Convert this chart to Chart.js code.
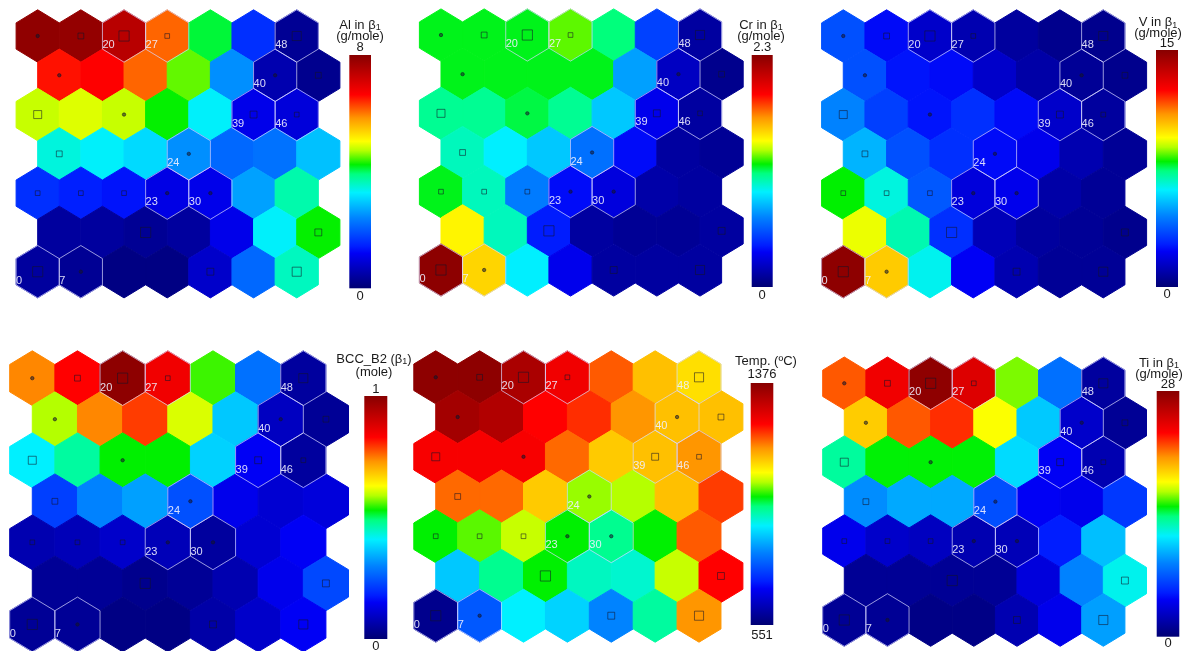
<!DOCTYPE html>
<html>
<head>
<meta charset="utf-8">
<script src="https://cdn.jsdelivr.net/npm/chart.js@4.4.1/dist/chart.umd.min.js"></script>
<style>
  html, body { margin: 0; padding: 0; background: #fff; overflow: hidden; }
  #wrap { position: relative; width: 1183px; height: 651px; overflow: hidden; }
  canvas { position: absolute; }
</style>
</head>
<body>
<div id="wrap">
  <canvas id="al"></canvas>
  <canvas id="cr"></canvas>
  <canvas id="v"></canvas>
  <canvas id="bcc"></canvas>
  <canvas id="temp"></canvas>
  <canvas id="ti"></canvas>
</div>
<script>
// SOM maps, 7 x 7 nodes, rows listed from the top row down, 7 nodes per row
const alValues = [
  7.9, 7.85, 7.45, 6.1, 4.1, 1.6, 0.3,
  6.55, 6.65, 6.1, 4.5, 2.5, 0.55, 0.25,
  4.8, 4.9, 4.8, 4.25, 3.3, 1.1, 0.95,
  3.45, 3.3, 3.1, 2.5, 2.15, 2.25, 2.9,
  1.6, 1.45, 1.35, 1.05, 1.1, 2.65, 3.7,
  0.4, 0.4, 0.3, 0.4, 1.1, 3.3, 4.25,
  0.4, 0.3, 0.15, 0.15, 0.8, 2.15, 3.6
];
const crValues = [
  1.2, 1.2, 1.2, 1.29, 1.13, 0.51, 0.12,
  1.2, 1.2, 1.2, 1.2, 0.76, 0.21, 0.07,
  1.1, 1.1, 1.17, 1.1, 0.85, 0.32, 0.12,
  1.04, 0.94, 0.85, 0.64, 0.37, 0.12, 0.09,
  1.2, 1.04, 0.67, 0.37, 0.28, 0.14, 0.12,
  1.47, 1.04, 0.41, 0.12, 0.09, 0.09, 0.12,
  2.28, 1.54, 0.94, 0.32, 0.12, 0.12, 0.12
];
const vValues = [
  3.6, 2.4, 1.5, 1.05, 0.75, 0.45, 0.45,
  3.6, 2.55, 2.4, 1.5, 0.9, 0.6, 0.45,
  4.5, 3.3, 2.55, 3.0, 2.4, 1.5, 0.75,
  5.25, 3.6, 3.0, 2.4, 2.1, 1.05, 0.6,
  7.95, 6.45, 3.75, 1.8, 2.1, 0.9, 0.6,
  9.3, 6.9, 3.0, 1.2, 0.75, 0.6, 0.45,
  14.85, 10.2, 6.3, 2.25, 1.05, 0.6, 0.6
];
const bccValues = [
  0.74, 0.83, 0.99, 0.85, 0.55, 0.28, 0.05,
  0.59, 0.74, 0.79, 0.61, 0.37, 0.09, 0.04,
  0.41, 0.47, 0.53, 0.53, 0.38, 0.15, 0.05,
  0.22, 0.30, 0.33, 0.24, 0.14, 0.11, 0.12,
  0.07, 0.08, 0.10, 0.08, 0.05, 0.11, 0.15,
  0.04, 0.04, 0.03, 0.04, 0.07, 0.14, 0.23,
  0.04, 0.04, 0.02, 0.02, 0.06, 0.10, 0.15
];
const tempValues = [
  1368, 1368, 1335, 1252, 1186, 1120, 1096,
  1343, 1327, 1236, 1211, 1153, 1120, 1120,
  1244, 1244, 1244, 1178, 1112, 1120, 1153,
  1178, 1178, 1112, 1030, 1038, 1120, 1203,
  988, 1013, 1046, 988, 947, 988, 1186,
  856, 947, 988, 922, 914, 1046, 1236,
  576, 757, 889, 865, 799, 939, 1153
];
const tiValues = [
  21.6, 23.8, 27.7, 24.6, 16.0, 7.8, 1.4,
  19.0, 21.6, 22.4, 17.6, 10.4, 2.8, 1.1,
  13.2, 14.8, 14.8, 14.8, 10.9, 4.2, 2.0,
  8.7, 9.5, 9.5, 6.7, 4.2, 3.9, 5.9,
  3.9, 2.8, 2.5, 2.0, 2.2, 5.0, 10.1,
  1.1, 1.1, 1.1, 1.1, 3.4, 8.4, 11.8,
  1.1, 1.1, 0.6, 0.6, 2.0, 3.9, 9.2
];

// colour bar ends (min, max)
const alRange = [0, 8];
const crRange = [0, 2.3];
const vRange = [0, 15];
const bccRange = [0, 1];
const tempRange = [551, 1376];
const tiRange = [0, 28];

// hits per node (same rows as above); 1 = single hit (dot)
const hitCounts = [
  1, 3, 7, 2, 0, 0, 6,
  1, 0, 0, 0, 0, 1, 3,
  5, 0, 1, 0, 0, 4, 2,
  3, 0, 0, 1, 0, 0, 0,
  2, 2, 2, 1, 1, 0, 0,
  0, 0, 7, 0, 0, 0, 4,
  7, 1, 0, 0, 4, 0, 6
];
const labeledNodes = [0, 7, 20, 27, 48, 40, 39, 46, 24, 23, 30];

const NROW = 7, NCOL = 7;

const colorStops = [
  [0.00, [0, 0, 115]],
  [0.15, [0, 0, 245]],
  [0.18, [0, 30, 255]],
  [0.30, [0, 130, 255]],
  [0.41, [0, 240, 255]],
  [0.49, [0, 255, 128]],
  [0.53, [0, 240, 0]],
  [0.59, [180, 255, 0]],
  [0.63, [255, 255, 0]],
  [0.73, [255, 150, 0]],
  [0.83, [255, 0, 0]],
  [1.00, [135, 0, 0]]
];

function colorAt(t) {
  t = Math.max(0, Math.min(1, t));
  for (let i = 1; i < colorStops.length; i++) {
    const [t1, c1] = colorStops[i];
    const [t0, c0] = colorStops[i - 1];
    if (t <= t1) {
      const f = (t - t0) / (t1 - t0);
      const c = c0.map((v, k) => Math.round(v + (c1[k] - v) * f));
      return 'rgb(' + c.join(',') + ')';
    }
  }
  return 'rgb(135,0,0)';
}

function nodeGrid(values) {
  const pts = [];
  for (let r = 0; r < NROW; r++) {
    for (let c = 0; c < NCOL; c++) {
      const row = NROW - 1 - r;
      pts.push({ x: c + (row % 2 ? 0.5 : 0), y: row, v: values[r * NCOL + c], node: c * NROW + row });
    }
  }
  return pts;
}

const hitPoints = nodeGrid(hitCounts).filter(p => p.v > 0);

function hexPath(ctx, xs, ys, p) {
  const corners = [[0, 2 / 3], [0.5, 1 / 3], [0.5, -1 / 3], [0, -2 / 3], [-0.5, -1 / 3], [-0.5, 1 / 3]];
  ctx.beginPath();
  corners.forEach(([dx, dy], i) => {
    const px = xs.getPixelForValue(p.x + dx), py = ys.getPixelForValue(p.y + dy);
    if (i) ctx.lineTo(px, py); else ctx.moveTo(px, py);
  });
  ctx.closePath();
}

// text with a lowered "1" after beta
function drawTitle(ctx, parts, cx, y) {
  const big = '13px "Liberation Sans", Arial, sans-serif';
  const small = '9px "Liberation Sans", Arial, sans-serif';
  let w = 0;
  parts.forEach(s => { ctx.font = s.sub ? small : big; w += ctx.measureText(s.t).width; });
  let x = cx - w / 2;
  ctx.textAlign = 'left';
  ctx.textBaseline = 'middle';
  parts.forEach(s => {
    ctx.font = s.sub ? small : big;
    ctx.fillText(s.t, x, s.sub ? y + 3 : y);
    x += ctx.measureText(s.t).width;
  });
}

const hexMap = {
  id: 'hexMap',
  beforeDatasetsDraw(chart, args, o) {
    const ctx = chart.ctx, xs = chart.scales.x, ys = chart.scales.y;
    ctx.save();
    chart.data.datasets[0].data.forEach(p => {
      const col = colorAt((p.v - o.range[0]) / (o.range[1] - o.range[0]));
      hexPath(ctx, xs, ys, p);
      ctx.fillStyle = col;
      ctx.fill();
      ctx.strokeStyle = col;
      ctx.lineWidth = 1;
      ctx.stroke();
    });
    ctx.restore();
  },
  afterDatasetsDraw(chart, args, o) {
    const ctx = chart.ctx, xs = chart.scales.x, ys = chart.scales.y;
    ctx.save();
    const pts = chart.data.datasets[0].data.filter(p => labeledNodes.includes(p.node));
    ctx.strokeStyle = 'rgba(215,215,255,0.7)';
    ctx.lineWidth = 1;
    pts.forEach(p => { hexPath(ctx, xs, ys, p); ctx.stroke(); });
    ctx.fillStyle = 'rgba(240,240,255,0.9)';
    ctx.font = '11px "Liberation Sans", Arial, sans-serif';
    ctx.textAlign = 'left';
    ctx.textBaseline = 'middle';
    pts.forEach(p => {
      ctx.fillText(String(p.node), xs.getPixelForValue(p.x - 0.5), ys.getPixelForValue(p.y - 0.23));
    });
    ctx.restore();
  },
  afterDraw(chart, args, o) {
    const ctx = chart.ctx, b = o.bar;
    ctx.save();
    const g = ctx.createLinearGradient(0, b.y + b.h, 0, b.y);
    colorStops.forEach(([t, c]) => g.addColorStop(t, 'rgb(' + c.join(',') + ')'));
    ctx.fillStyle = g;
    ctx.fillRect(b.x, b.y, b.w, b.h);
    ctx.fillStyle = '#1a1a1a';
    o.title.forEach((line, i) => drawTitle(ctx, line, o.titleX, o.titleY[i]));
    ctx.font = '13px "Liberation Sans", Arial, sans-serif';
    ctx.textAlign = 'center';
    ctx.textBaseline = 'middle';
    ctx.fillText(String(o.range[1]), b.x + b.w / 2, o.maxY);
    ctx.fillText(String(o.range[0]), b.x + b.w / 2, o.minY);
    ctx.restore();
  }
};

const gmole = [{ t: '(g/mole)' }];
const panels = [
  { id: 'al', values: alValues, range: alRange, box: [0, 0, 395, 320], pad: { left: 16.1, top: 9.8, right: 55.1, bottom: 22.1 },
    bar: { x: 349.3, y: 55, w: 21.7, h: 233.3 }, title: [[{ t: 'Al in β' }, { t: '1', sub: true }], gmole], titleX: 360, titleY: [25, 36], maxY: 47.5, minY: 296 },
  { id: 'cr', values: crValues, range: crRange, box: [395, 0, 395, 320], pad: { left: 24.4, top: 8.9, right: 46.8, bottom: 23.9 },
    bar: { x: 356.7, y: 55, w: 21, h: 232 }, title: [[{ t: 'Cr in β' }, { t: '1', sub: true }], gmole], titleX: 366, titleY: [25, 36], maxY: 47.5, minY: 295 },
  { id: 'v', values: vValues, range: vRange, box: [790, 0, 393, 320], pad: { left: 31.6, top: 9.8, right: 36.4, bottom: 22.1 },
    bar: { x: 366, y: 50, w: 22, h: 237 }, title: [[{ t: 'V in β' }, { t: '1', sub: true }], gmole], titleX: 368, titleY: [22.7, 33.5], maxY: 43.5, minY: 294 },
  { id: 'bcc', values: bccValues, range: bccRange, box: [0, 320, 415, 340], pad: { left: 9.7, top: 30.8, right: 66.5, bottom: 6.5 },
    bar: { x: 364.3, y: 76, w: 23, h: 243 }, title: [[{ t: 'BCC_B2 (β' }, { t: '1', sub: true }, { t: ')' }], [{ t: '(mole)' }]], titleX: 374, titleY: [39, 52.5], maxY: 69, minY: 326 },
  { id: 'temp', values: tempValues, range: tempRange, box: [400, 320, 405, 340], pad: { left: 13.8, top: 30.8, right: 62.1, bottom: 17.8 },
    bar: { x: 350.7, y: 63, w: 22.6, h: 242 }, title: [[{ t: 'Temp. (ºC)' }]], titleX: 366, titleY: [41], maxY: 54, minY: 315 },
  { id: 'ti', values: tiValues, range: tiRange, box: [790, 320, 393, 340], pad: { left: 32.7, top: 37, right: 36.5, bottom: 13.7 },
    bar: { x: 366.7, y: 71, w: 22.6, h: 245.7 }, title: [[{ t: 'Ti in β' }, { t: '1', sub: true }], gmole], titleX: 369, titleY: [43, 54.5], maxY: 64.5, minY: 323 }
];

panels.forEach(p => {
  const cv = document.getElementById(p.id);
  cv.width = p.box[2];
  cv.height = p.box[3];
  cv.style.left = p.box[0] + 'px';
  cv.style.top = p.box[1] + 'px';
  new Chart(cv, {
    type: 'scatter',
    data: {
      datasets: [
        { data: nodeGrid(p.values), pointRadius: 0 },
        {
          data: hitPoints,
          pointStyle: hitPoints.map(h => h.v === 1 ? 'circle' : 'rect'),
          pointRadius: hitPoints.map(h => h.v === 1 ? 1.7 : (2.5 + 1.1 * h.v) / Math.SQRT2),
          borderColor: 'rgba(20,20,40,0.55)',
          backgroundColor: hitPoints.map(h => h.v === 1 ? 'rgba(20,20,40,0.55)' : 'rgba(0,0,0,0)'),
          borderWidth: 1
        }
      ]
    },
    options: {
      responsive: false,
      animation: false,
      events: [],
      layout: { padding: p.pad },
      scales: {
        x: { type: 'linear', min: -0.5, max: 7, display: false },
        y: { type: 'linear', min: -2 / 3, max: 6 + 2 / 3, display: false }
      },
      plugins: {
        legend: { display: false },
        tooltip: { enabled: false },
        hexMap: { range: p.range, bar: p.bar, title: p.title, titleX: p.titleX, titleY: p.titleY, maxY: p.maxY, minY: p.minY }
      }
    },
    plugins: [hexMap]
  });
});
</script>
</body>
</html>
